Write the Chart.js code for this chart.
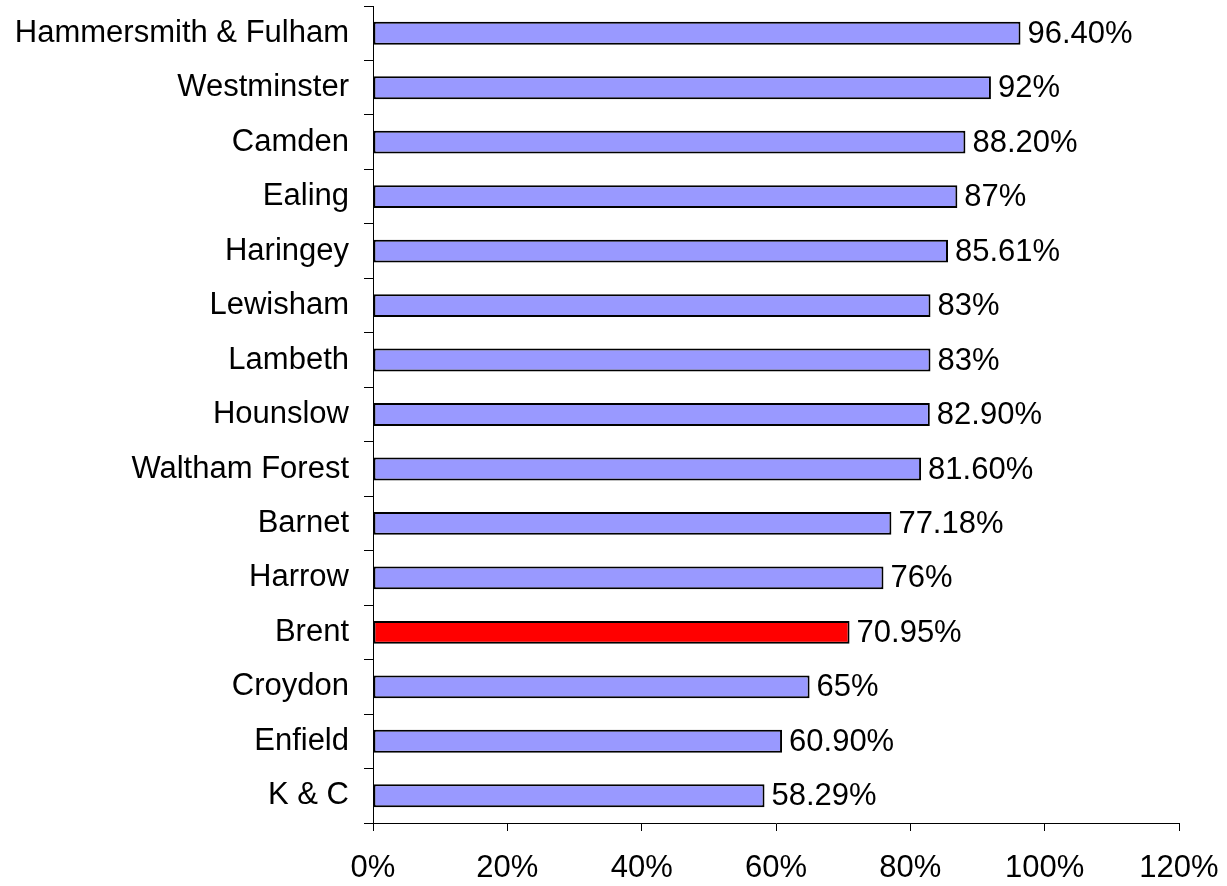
<!DOCTYPE html>
<html>
<head>
<meta charset="utf-8">
<script src="https://cdn.jsdelivr.net/npm/chart.js@4"></script>
<style>
  html, body { margin: 0; padding: 0; background: #fff; }
  #wrap { width: 1227px; height: 886px; }
</style>
</head>
<body>
<div id="wrap"><canvas id="chart" width="1227" height="886"></canvas></div>
<script>
const boroughs = ["Hammersmith & Fulham", "Westminster", "Camden", "Ealing", "Haringey", "Lewisham", "Lambeth", "Hounslow", "Waltham Forest", "Barnet", "Harrow", "Brent", "Croydon", "Enfield", "K & C"];
const rates = [96.4, 92, 88.2, 87, 85.61, 83, 83, 82.9, 81.6, 77.18, 76, 70.95, 65, 60.9, 58.29];
const rateLabels = ["96.40%", "92%", "88.20%", "87%", "85.61%", "83%", "83%", "82.90%", "81.60%", "77.18%", "76%", "70.95%", "65%", "60.90%", "58.29%"];
const highlight = "Brent";

const font = { family: "'Liberation Sans', Arial, sans-serif", size: 31 };

// draws the value text just past the end of each bar
const valueLabels = {
  id: "valueLabels",
  afterDatasetsDraw(chart) {
    const ctx = chart.ctx;
    const meta = chart.getDatasetMeta(0);
    ctx.save();
    ctx.font = font.size + "px " + font.family;
    ctx.fillStyle = "#000";
    ctx.textAlign = "left";
    ctx.textBaseline = "middle";
    meta.data.forEach((bar, i) => {
      ctx.fillText(rateLabels[i], bar.x + 7, bar.y + 1);
    });
    ctx.restore();
  }
};

new Chart(document.getElementById("chart"), {
  type: "bar",
  data: {
    labels: boroughs,
    datasets: [{
      data: rates,
      backgroundColor: boroughs.map(b => b === highlight ? "#FF0000" : "#9999FF"),
      borderColor: "#000",
      borderWidth: 2,
      borderSkipped: false,
      categoryPercentage: 1,
      barPercentage: 0.42
    }]
  },
  options: {
    indexAxis: "y",
    responsive: false,
    animation: false,
    layout: { padding: { top: 6, right: 48, left: 0, bottom: 0 } },
    plugins: { legend: { display: false }, tooltip: { enabled: false } },
    scales: {
      x: {
        min: 0,
        max: 120,
        afterFit: s => { s.height = 63; s.paddingLeft = 0; s.paddingRight = 0; },
        ticks: {
          stepSize: 20,
          color: "#000",
          font: font,
          padding: 19,
          maxRotation: 0,
          callback: v => v + "%"
        },
        grid: { drawOnChartArea: false, tickLength: 8, color: "#000", tickColor: "#000" },
        border: { color: "#000", width: 1 }
      },
      y: {
        afterFit: s => { s.width = 373; s.paddingTop = 0; s.paddingBottom = 0; },
        ticks: { color: "#000", font: font, padding: 15 },
        grid: { drawOnChartArea: false, tickLength: 9, color: "#000", tickColor: "#000", offset: true },
        border: { color: "#000", width: 1 }
      }
    }
  },
  plugins: [valueLabels]
});
</script>
</body>
</html>
